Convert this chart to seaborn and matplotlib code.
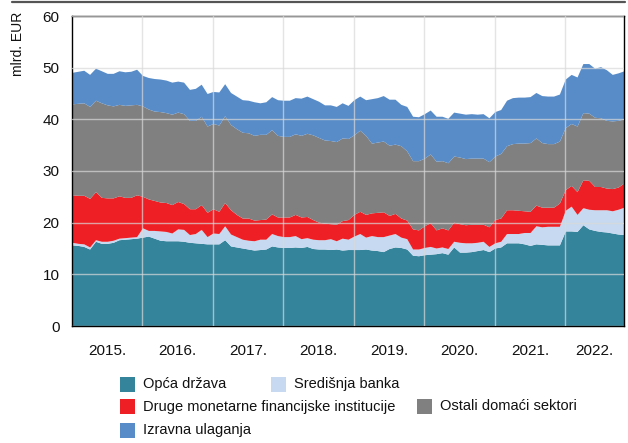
import matplotlib
matplotlib.use("Agg")
import matplotlib.pyplot as plt
from matplotlib.patches import Rectangle
from matplotlib.lines import Line2D
import seaborn as sns
import numpy as np

# mjesečni podaci, siječanj 2015. - studeni 2022. (mlrd. EUR)
opca_drzava = [15.7, 15.6, 15.4, 14.9, 16.4, 16.0, 16.0, 16.2, 16.7, 16.8, 16.9, 17.0,
               17.2, 17.4, 17.0, 16.6, 16.5, 16.5, 16.5, 16.4, 16.2, 16.1, 16.0, 15.9,
               15.9, 15.9, 16.7, 15.5, 15.3, 15.1, 14.9, 14.7, 14.8, 14.9, 15.5, 15.3,
               15.2, 15.2, 15.3, 15.2, 15.4, 15.0, 14.9, 14.9, 14.8, 14.9, 14.7, 14.8,
               14.8, 14.8, 14.9, 14.7, 14.6, 14.4, 15.0, 15.3, 15.2, 14.9, 13.7, 13.6,
               13.8, 13.9, 14.0, 14.2, 13.9, 15.3, 14.3, 14.3, 14.4, 14.6, 14.8, 14.4,
               15.1, 15.3, 16.1, 16.1, 16.1, 15.9, 15.6, 15.9, 15.8, 15.7, 15.7, 15.7,
               18.4, 18.4, 18.3, 19.6, 18.8, 18.5, 18.3, 18.2, 18.0, 17.8, 17.7]
sredisnja_banka = [0.5, 0.4, 0.5, 0.4, 0.3, 0.4, 0.4, 0.4, 0.3, 0.3, 0.3, 0.3,
                   1.8, 1.1, 1.5, 1.8, 1.8, 1.5, 2.3, 2.3, 1.5, 1.8, 2.7, 1.4,
                   2.1, 2.0, 2.7, 2.3, 2.0, 1.7, 1.7, 1.8, 2.0, 1.9, 2.4, 2.2,
                   2.1, 2.1, 2.2, 1.7, 1.7, 1.8, 1.8, 1.8, 2.1, 1.6, 2.3, 2.0,
                   2.6, 3.1, 2.3, 2.8, 2.7, 2.9, 2.6, 2.6, 2.0, 2.0, 1.2, 1.3,
                   1.4, 1.5, 1.1, 1.1, 1.1, 1.1, 1.9, 1.8, 1.7, 1.6, 1.6, 1.0,
                   1.0, 1.1, 1.8, 1.8, 1.8, 2.2, 2.5, 3.5, 3.4, 3.6, 3.6, 3.6,
                   4.0, 4.8, 3.3, 3.3, 3.8, 4.0, 4.2, 4.3, 4.3, 4.8, 5.3]
druge_mfi = [9.2, 9.3, 9.4, 9.4, 9.3, 8.5, 8.4, 8.2, 8.2, 7.8, 7.7, 8.1,
             6.1, 6.1, 5.8, 5.6, 5.6, 5.5, 5.3, 5.0, 5.0, 4.8, 4.8, 4.7,
             4.7, 4.3, 4.5, 4.7, 4.3, 4.1, 4.3, 4.0, 3.8, 3.9, 3.8, 3.6,
             3.8, 3.8, 4.1, 4.2, 4.1, 3.8, 3.4, 3.2, 2.9, 3.2, 3.4, 3.8,
             4.2, 4.3, 4.4, 4.4, 4.7, 4.8, 3.8, 3.9, 3.7, 3.6, 3.9, 3.7,
             4.2, 4.6, 3.5, 3.7, 3.6, 3.7, 3.6, 3.5, 3.6, 3.5, 3.3, 3.8,
             4.5, 4.5, 4.6, 4.6, 4.5, 4.2, 4.1, 4.0, 3.8, 3.7, 3.7, 4.5,
             4.0, 4.0, 4.4, 5.4, 5.6, 4.5, 4.5, 4.2, 4.3, 4.3, 4.7]
ostali_sektori = [17.6, 17.8, 17.9, 17.8, 17.7, 18.3, 18.0, 17.8, 17.7, 17.8, 17.9, 17.5,
                  17.5, 17.4, 17.3, 17.5, 17.4, 17.5, 17.3, 17.4, 17.1, 17.1, 17.1, 16.7,
                  16.5, 16.7, 16.8, 16.5, 16.6, 16.6, 16.5, 16.4, 16.5, 16.4, 16.3, 15.8,
                  15.6, 15.6, 15.6, 15.8, 16.1, 16.4, 16.4, 16.1, 16.1, 16.0, 16.0, 15.7,
                  15.4, 15.7, 15.3, 13.5, 13.6, 13.7, 13.6, 13.4, 14.0, 13.4, 13.2, 13.4,
                  13.1, 13.3, 13.3, 13.0, 13.0, 12.8, 12.9, 12.8, 12.8, 12.8, 12.8, 12.6,
                  12.3, 12.5, 12.4, 12.8, 13.0, 13.1, 13.3, 13.0, 12.5, 12.3, 12.3, 12.0,
                  12.0, 12.0, 12.7, 13.0, 13.0, 13.4, 13.3, 13.1, 13.1, 12.9, 12.4]
izravna_ulaganja = [6.1, 6.2, 6.3, 6.2, 6.2, 6.2, 6.1, 6.3, 6.5, 6.5, 6.5, 6.8,
                    5.9, 6.1, 6.3, 6.3, 6.3, 6.2, 6.0, 6.1, 6.0, 6.2, 6.2, 6.3,
                    6.2, 6.4, 6.2, 6.2, 6.3, 6.3, 6.3, 6.5, 6.1, 6.3, 6.4, 6.9,
                    7.0, 7.0, 7.0, 7.2, 7.2, 7.0, 7.0, 6.8, 6.9, 6.8, 6.8, 6.4,
                    6.8, 6.6, 6.9, 8.6, 8.6, 8.8, 8.9, 8.7, 8.0, 8.6, 8.6, 8.5,
                    8.6, 8.5, 8.7, 8.6, 8.6, 8.5, 8.5, 8.6, 8.6, 8.5, 8.6, 8.5,
                    8.6, 8.5, 8.8, 8.9, 8.9, 8.9, 8.9, 8.8, 9.1, 9.2, 9.2, 9.1,
                    9.4, 9.5, 9.5, 9.5, 9.6, 9.5, 9.9, 9.8, 9.0, 9.2, 9.3]

godine = ["2015.", "2016.", "2017.", "2018.", "2019.", "2020.", "2021.", "2022."]
serije = ["Opća država", "Središnja banka", "Druge monetarne financijske institucije",
          "Ostali domaći sektori", "Izravna ulaganja"]
boje = ["#34849b", "#c6d9f0", "#ee2026", "#808080", "#578cc9"]

sns.set_style("white")
plt.rcParams["font.family"] = ["Liberation Sans Narrow", "Liberation Sans", "DejaVu Sans"]

fig = plt.figure(figsize=(6.28, 4.43), dpi=100)
ax = fig.add_axes([72 / 628, 1 - 326 / 443, 552 / 628, 310 / 443])

mjeseci = np.arange(len(opca_drzava))
ax.stackplot(mjeseci, opca_drzava, sredisnja_banka, druge_mfi, ostali_sektori,
             izravna_ulaganja, colors=boje, linewidth=0)

ax.set_xlim(0, 94)
ax.set_ylim(0, 60)
ax.set_yticks(range(0, 61, 10))
ax.set_xticks([12 * k for k in range(1, 8)], minor=True)
ax.set_xticks([6 + 12 * k for k in range(7)] + [89])
ax.set_xticklabels(godine)
ax.tick_params(axis="both", which="both", length=0, labelsize=11, colors="#111111")
ax.tick_params(axis="x", pad=13)
ax.tick_params(axis="y", pad=9)

ax.grid(True, axis="y", color="#d9d9d9", lw=1, alpha=0.7)
ax.grid(True, axis="x", which="minor", color="#d9d9d9", lw=1, alpha=0.7)
ax.set_axisbelow(False)
for s in ax.spines.values():
    s.set_visible(True)
    s.set_color("black")
    s.set_linewidth(1)

fig.text(18.5 / 628, 1 - 12 / 443, "mlrd. EUR", rotation=90, ha="center", va="top",
         fontsize=10, color="#111111")

fig.add_artist(Line2D([12 / 628, 625 / 628], [1 - 1.5 / 443] * 2, color="#555555", lw=1.6))

# legenda ispod grafikona
pozicije = [(120, 384), (271, 384), (120, 406.5), (417, 406.5), (120, 430)]
for (px, py), naziv, boja in zip(pozicije, serije, boje):
    fig.add_artist(Rectangle((px / 628, 1 - (py + 7.5) / 443), 15 / 628, 15 / 443,
                             transform=fig.transFigure, color=boja, lw=0))
    fig.text((px + 23) / 628, 1 - py / 443, naziv, ha="left", va="center",
             fontsize=10.5, color="#111111")

fig.savefig("out.png", dpi=100)
